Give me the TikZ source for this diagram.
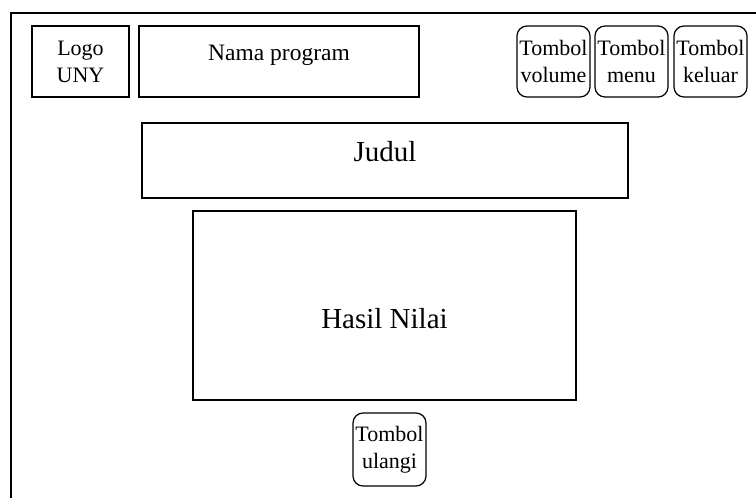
\documentclass[tikz,border=0pt]{standalone}
\usepackage{fontspec}
\setmainfont{Liberation Serif}
\usepackage{tikz}

\begin{document}
\begin{tikzpicture}[x=1pt,y=-1pt,
    kotak/.style={draw,line width=1.2pt,inner sep=0pt,align=center,
      font=\fontsize{22}{27}\selectfont},
    tombol/.style={kotak,rounded corners=10pt,minimum width=73pt,minimum height=71pt},
    besar/.style={kotak,font=\fontsize{29}{34}\selectfont}]
  \useasboundingbox (0,0) rectangle (756,498);
  \clip (0,0) rectangle (756,498);
  \draw[line width=1.4pt] (11,13) rectangle (800,560);
  % baris atas
  \node[kotak,minimum width=97pt,minimum height=71pt] (logo) at (80.5,61.5) {Logo\\UNY};
  \node[kotak,font=\fontsize{23.5}{28}\selectfont,minimum width=280pt,minimum height=71pt,text height=16pt,text depth=19pt] (nama) at (279,61.5) {Nama program};
  \node[tombol] (volume) at (553.5,61.5) {Tombol\\volume};
  \node[tombol] (menu) at (631.5,61.5) {Tombol\\menu};
  \node[tombol] (keluar) at (710.5,61.5) {Tombol\\keluar};
  % isi
  \node[besar,minimum width=486pt,minimum height=75pt,text height=20pt,text depth=19pt] (judul) at (385,160.5) {Judul};
  \node[besar,minimum width=383pt,minimum height=189pt,text height=45pt,text depth=0pt] (hasil) at (384.5,305.5) {Hasil Nilai};
  \node[tombol,minimum height=73pt] (ulangi) at (389.5,449.5) {Tombol\\ulangi};
\end{tikzpicture}
\end{document}
